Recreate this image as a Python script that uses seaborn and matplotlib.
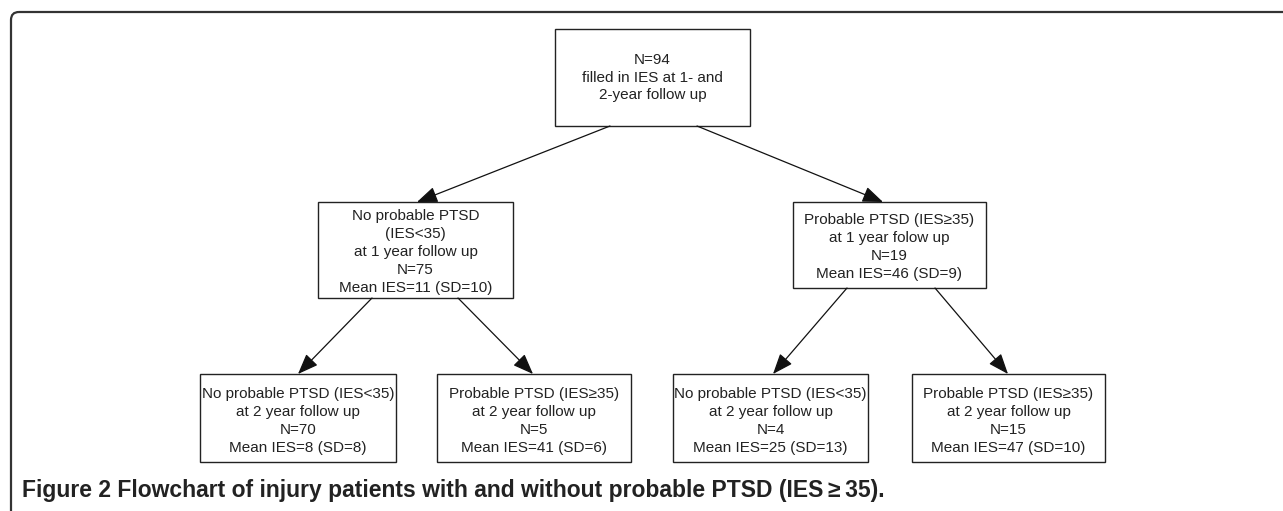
import matplotlib
matplotlib.use("Agg")
import matplotlib.pyplot as plt
from matplotlib.patches import Rectangle, FancyBboxPatch
import seaborn as sns

sns.set_theme(style="white")
plt.rcParams.update({
    "font.family": ["Liberation Sans", "DejaVu Sans"],
})

# Flowchart content
top_n = 94
level1_labels = ["No probable PTSD\n(IES<35)\nat 1 year follow up",
                 "Probable PTSD (IES\u226535)\nat 1 year folow up"]
level1_n = [75, 19]
level1_mean = [11, 46]
level1_sd = [10, 9]

level2_labels = ["No probable PTSD (IES<35)\nat 2 year follow up",
                 "Probable PTSD (IES\u226535)\nat 2 year follow up",
                 "No probable PTSD (IES<35)\nat 2 year follow up",
                 "Probable PTSD (IES\u226535)\nat 2 year follow up"]
level2_n = [70, 5, 4, 15]
level2_mean = [8, 41, 25, 47]
level2_sd = [8, 6, 13, 10]
level2_parent = [0, 0, 1, 1]

caption_bold = "Figure 2 Flowchart of injury patients with and without probable PTSD (IES\u2009\u2265\u200935)."

# Layout in pixel space (x0, y0, x1, y1)
W, H = 1283, 511
top_box = (555, 29, 750, 126)
level1_boxes = [(318, 202, 513, 298), (793, 202, 986, 288)]
level2_boxes = [(200, 374, 396, 462), (437, 374, 631, 462),
                (673, 374, 868, 462), (912, 374, 1105, 462)]

fig = plt.figure(figsize=(W / 100, H / 100), dpi=100)
ax = fig.add_axes([0, 0, 1, 1])
ax.set_xlim(0, W)
ax.set_ylim(H, 0)
ax.axis("off")

# outer frame with rounded top-left corner, running off the page
frame = FancyBboxPatch((11, 12), W + 60, H + 60,
                       boxstyle="round,pad=0,rounding_size=8",
                       fill=False, edgecolor="#333333", linewidth=1.6)
ax.add_patch(frame)


def draw_box(box, text, dy=0):
    x0, y0, x1, y1 = box
    ax.add_patch(Rectangle((x0, y0), x1 - x0, y1 - y0, fill=False,
                           edgecolor="#222222", linewidth=1.0))
    ax.text((x0 + x1) / 2, (y0 + y1) / 2 + dy, text, ha="center",
            va="center", fontsize=11, color="#222222", linespacing=1.35)


def draw_arrow(start, end):
    ax.annotate("", xy=end, xytext=start,
                arrowprops=dict(arrowstyle="-|>,head_length=0.9,head_width=0.35",
                                color="#111111", lw=0.9, shrinkA=0, shrinkB=0,
                                mutation_scale=14))


draw_box(top_box, f"N={top_n}\nfilled in IES at 1- and\n2-year follow up")

for i, box in enumerate(level1_boxes):
    txt = f"{level1_labels[i]}\nN={level1_n[i]}\nMean IES={level1_mean[i]} (SD={level1_sd[i]})"
    draw_box(box, txt, dy=2)

for i, box in enumerate(level2_boxes):
    txt = f"{level2_labels[i]}\nN={level2_n[i]}\nMean IES={level2_mean[i]} (SD={level2_sd[i]})"
    draw_box(box, txt, dy=3)

# arrows top -> level 1
top_starts = [(610, top_box[3]), (697, top_box[3])]
level1_tips = [(417, 202), (883, 202)]
for s, e in zip(top_starts, level1_tips):
    draw_arrow(s, e)

# arrows level 1 -> level 2
level1_starts = [[(372, 298), (458, 298)], [(847, 288), (935, 288)]]
level2_tips = [(298, 374), (533, 374), (773, 374), (1008, 374)]
used = [0, 0]
for j, p in enumerate(level2_parent):
    s = level1_starts[p][used[p]]
    used[p] += 1
    draw_arrow(s, level2_tips[j])

ax.text(22, 490, caption_bold, ha="left", va="center", fontsize=16.5,
        fontweight="bold", color="#222222",
        family=["Liberation Sans", "DejaVu Sans"])

fig.savefig("out.png", dpi=100)
